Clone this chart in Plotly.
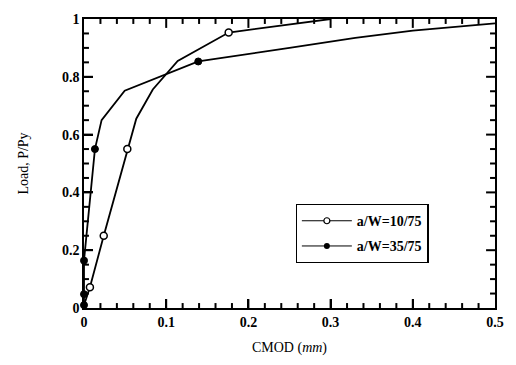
import numpy as np
import plotly.graph_objects as go

# a/W = 10/75 (open circles)
open_line_x = [0.0, 0.0072, 0.024, 0.0527, 0.0636, 0.0837, 0.114, 0.176, 0.30]
open_line_y = [0.01, 0.072, 0.25, 0.55, 0.655, 0.756, 0.855, 0.953, 1.0]
open_pts_x = [0.0072, 0.024, 0.0527, 0.176]
open_pts_y = [0.072, 0.25, 0.55, 0.953]

# a/W = 35/75 (filled circles)
fill_line_x = [0.0, 0.0, 0.0, 0.0133, 0.0214, 0.0495, 0.139, 0.25, 0.33, 0.40, 0.5]
fill_line_y = [0.01, 0.048, 0.164, 0.55, 0.65, 0.752, 0.853, 0.90, 0.935, 0.96, 0.985]
fill_pts_x = [0.0, 0.0, 0.0, 0.0133, 0.139]
fill_pts_y = [0.01, 0.048, 0.164, 0.55, 0.853]

names = ["a/W=10/75", "a/W=35/75"]

serif = "Liberation Serif"
W, H = 516, 365
ML, MR, MT, MB = 84, 18, 16, 57
XR, YR = [0, 0.5], [0, 1]
lw = 1.8
fig = go.Figure()

# inward tick marks on all four sides, drawn through the axes' own scales
px_x = (XR[1] - XR[0]) / (W - ML - MR)
px_y = (YR[1] - YR[0]) / (H - MT - MB)
x_major = [0.1, 0.2, 0.3, 0.4]
x_minor = [float(v) for v in np.round(np.arange(0.02, 0.5, 0.02), 3) if abs(v * 10 - round(v * 10)) > 1e-6]
y_major = [0.2, 0.4, 0.6, 0.8]
y_minor = [0.05, 0.1, 0.15, 0.25, 0.3, 0.35, 0.45, 0.5, 0.55, 0.65, 0.7, 0.75, 0.85, 0.9, 0.95]
for vals, L in [(x_major, 9), (x_minor, 5)]:
    for v in vals:
        for y0, y1 in [(YR[0], YR[0] + L * px_y), (YR[1], YR[1] - L * px_y)]:
            fig.add_trace(go.Scatter(x=[v, v], y=[y0, y1], mode="lines",
                                     line=dict(color="black", width=2),
                                     showlegend=False, hoverinfo="skip", cliponaxis=False))
for vals, L in [(y_major, 9), (y_minor, 5)]:
    for v in vals:
        for x0, x1 in [(XR[0], XR[0] + L * px_x), (XR[1], XR[1] - L * px_x)]:
            fig.add_trace(go.Scatter(x=[x0, x1], y=[v, v], mode="lines",
                                     line=dict(color="black", width=2),
                                     showlegend=False, hoverinfo="skip", cliponaxis=False))

fig.add_trace(go.Scatter(x=open_line_x, y=open_line_y, mode="lines",
                         line=dict(color="black", width=lw), showlegend=False, cliponaxis=False))
fig.add_trace(go.Scatter(x=fill_line_x, y=fill_line_y, mode="lines",
                         line=dict(color="black", width=lw), showlegend=False, cliponaxis=False))
fig.add_trace(go.Scatter(x=open_pts_x, y=open_pts_y, mode="markers",
                         marker=dict(symbol="circle", size=7, color="white",
                                     line=dict(color="black", width=1.5)),
                         showlegend=False, cliponaxis=False))
fig.add_trace(go.Scatter(x=fill_pts_x, y=fill_pts_y, mode="markers",
                         marker=dict(symbol="circle", size=7, color="black",
                                     line=dict(color="black", width=1)),
                         showlegend=False, cliponaxis=False))
# legend entries
fig.add_trace(go.Scatter(x=[None], y=[None], mode="lines+markers", name=names[0],
                         legendgroup="a",
                         line=dict(color="black", width=1),
                         marker=dict(symbol="circle", size=6, color="white",
                                     line=dict(color="black", width=1.2))))
fig.add_trace(go.Scatter(x=[None], y=[None], mode="lines+markers", name=names[1],
                         legendgroup="b",
                         line=dict(color="black", width=1),
                         marker=dict(symbol="circle", size=6, color="black")))

tickfont = dict(family=serif, size=14, color="black", weight="bold")

fig.update_layout(
    xaxis=dict(range=XR, dtick=0.1, tick0=0, showgrid=False, zeroline=False,
               showline=True, linecolor="black", linewidth=1.6, mirror=True,
               ticks="inside", ticklen=9, tickwidth=2, tickcolor="black",
               tickfont=tickfont,
               title=dict(text="CMOD (<i>mm</i>)", font=dict(family=serif, size=14, color="black"),
                          standoff=14)),
    yaxis=dict(range=YR, dtick=0.2, tick0=0, showgrid=False, zeroline=False,
               showline=True, linecolor="black", linewidth=1.6, mirror=True,
               ticks="inside", ticklen=9, tickwidth=2, tickcolor="black",
               tickfont=tickfont,
               title=dict(text="Load, P/Py", font=dict(family=serif, size=14, color="black"),
                          standoff=30)),
    width=W, height=H,
    margin=dict(l=ML, r=MR, t=MT, b=MB),
    plot_bgcolor="white", paper_bgcolor="white",
    legend=dict(x=0.515, y=0.36, xanchor="left", yanchor="top",
                bordercolor="black", borderwidth=1.2, bgcolor="white",
                font=dict(family=serif, size=14, color="black", weight="bold"),
                tracegroupgap=4, itemwidth=50),
)

fig.write_html("out.html")
